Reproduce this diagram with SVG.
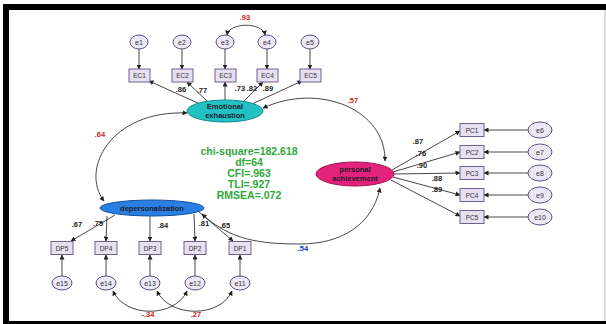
<svg xmlns="http://www.w3.org/2000/svg" width="606" height="324" viewBox="0 0 606 324">
<style>
.box{fill:#e6e0f0;stroke:#6e6090;stroke-width:1}
.err{fill:#ece8f6;stroke:#5e5080;stroke-width:1}
.c{fill:none;stroke:#333;stroke-width:0.9}
.bt{font-family:"Liberation Sans",Arial,sans-serif;font-size:6.5px;fill:#333;text-anchor:middle}
.et{font-family:"Liberation Sans",Arial,sans-serif;font-size:7px;fill:#333;text-anchor:middle}
.lt{font-family:"Liberation Sans",Arial,sans-serif;font-size:7.5px;font-weight:bold;fill:#222;text-anchor:middle}
.red{font-family:"Liberation Sans",Arial,sans-serif;font-size:7.5px;font-weight:bold;fill:#d42020;text-anchor:middle}
.blue{font-family:"Liberation Sans",Arial,sans-serif;font-size:7.5px;font-weight:bold;fill:#2030c0;text-anchor:middle}
.nt{font-family:"Liberation Sans",Arial,sans-serif;font-size:7.5px;font-weight:bold;fill:#1a1a2a;text-anchor:middle}
.fit{font-family:"Liberation Sans",Arial,sans-serif;font-size:10.5px;font-weight:bold;fill:#2fa83a;text-anchor:middle}
</style>
<defs>
<marker id="ah" viewBox="0 0 10 10" refX="9" refY="5" markerWidth="5" markerHeight="5" orient="auto-start-reverse" markerUnits="userSpaceOnUse">
<path d="M0,0 L10,5 L0,10 z" fill="#222"/>
</marker>
</defs>
<rect x="0" y="0" width="606" height="324" fill="#fff"/>
<rect x="3" y="4" width="603" height="6" fill="#000"/>
<rect x="3" y="4" width="6" height="320" fill="#000"/>
<rect x="3" y="321" width="603" height="3" fill="#000"/>
<line x1="605" y1="10" x2="605" y2="321" stroke="#bbb" stroke-width="1"/>

<g id="connectors">
<line class="c" x1="139" y1="49" x2="139" y2="69" marker-end="url(#ah)"/>
<line class="c" x1="182" y1="49" x2="182" y2="69" marker-end="url(#ah)"/>
<line class="c" x1="225" y1="49" x2="225" y2="69" marker-end="url(#ah)"/>
<line class="c" x1="267" y1="49" x2="267" y2="69" marker-end="url(#ah)"/>
<line class="c" x1="310" y1="49" x2="310" y2="69" marker-end="url(#ah)"/>
<path class="c" d="M227,35 C229,22 263,22 265,35" marker-start="url(#ah)" marker-end="url(#ah)"/>
<line class="c" x1="200" y1="104" x2="149" y2="81" marker-end="url(#ah)"/>
<line class="c" x1="207" y1="101" x2="187" y2="82" marker-end="url(#ah)"/>
<line class="c" x1="225" y1="100" x2="225" y2="82" marker-end="url(#ah)"/>
<line class="c" x1="244" y1="101" x2="263" y2="82" marker-end="url(#ah)"/>
<line class="c" x1="252" y1="104" x2="302" y2="81" marker-end="url(#ah)"/>
<line class="c" x1="392" y1="170" x2="460" y2="131" marker-end="url(#ah)"/>
<line class="c" x1="393" y1="172" x2="460" y2="152" marker-end="url(#ah)"/>
<line class="c" x1="394" y1="174" x2="460" y2="173" marker-end="url(#ah)"/>
<line class="c" x1="393" y1="177" x2="460" y2="195" marker-end="url(#ah)"/>
<line class="c" x1="391" y1="180" x2="460" y2="216" marker-end="url(#ah)"/>
<line class="c" x1="528" y1="130" x2="484" y2="130" marker-end="url(#ah)"/>
<line class="c" x1="528" y1="152" x2="484" y2="152" marker-end="url(#ah)"/>
<line class="c" x1="528" y1="173" x2="484" y2="173" marker-end="url(#ah)"/>
<line class="c" x1="528" y1="195" x2="484" y2="195" marker-end="url(#ah)"/>
<line class="c" x1="528" y1="217" x2="484" y2="217" marker-end="url(#ah)"/>
<line class="c" x1="115" y1="215" x2="71" y2="241" marker-end="url(#ah)"/>
<line class="c" x1="107" y1="216" x2="106" y2="241" marker-end="url(#ah)"/>
<line class="c" x1="150" y1="216" x2="150" y2="241" marker-end="url(#ah)"/>
<line class="c" x1="194" y1="214" x2="195" y2="241" marker-end="url(#ah)"/>
<line class="c" x1="199" y1="212" x2="233" y2="241" marker-end="url(#ah)"/>
<line class="c" x1="62" y1="276" x2="62" y2="255" marker-end="url(#ah)"/>
<line class="c" x1="106" y1="276" x2="106" y2="255" marker-end="url(#ah)"/>
<line class="c" x1="150" y1="276" x2="150" y2="255" marker-end="url(#ah)"/>
<line class="c" x1="195" y1="276" x2="195" y2="255" marker-end="url(#ah)"/>
<line class="c" x1="240" y1="276" x2="240" y2="255" marker-end="url(#ah)"/>
<path class="c" d="M113,291 C125,318 175,318 187,291" marker-start="url(#ah)" marker-end="url(#ah)"/>
<path class="c" d="M157,291 C170,318 220,318 232,291" marker-start="url(#ah)" marker-end="url(#ah)"/>
<path class="c" d="M187,113 C110,110 80,170 104,201" marker-start="url(#ah)" marker-end="url(#ah)"/>
<path class="c" d="M263,108 C320,82 386,110 385,161" marker-start="url(#ah)" marker-end="url(#ah)"/>
<path class="c" d="M202,214 C230,240 260,244 300,244 C340,244 372,226 380,188" marker-start="url(#ah)" marker-end="url(#ah)"/>
</g>

<g id="e1"><ellipse class="err" cx="139" cy="42" rx="9" ry="7"/><text class="et" x="139" y="44.5">e1</text></g>
<g id="e2"><ellipse class="err" cx="182" cy="42" rx="9" ry="7"/><text class="et" x="182" y="44.5">e2</text></g>
<g id="e3"><ellipse class="err" cx="225" cy="42" rx="9" ry="7"/><text class="et" x="225" y="44.5">e3</text></g>
<g id="e4"><ellipse class="err" cx="267" cy="42" rx="9" ry="7"/><text class="et" x="267" y="44.5">e4</text></g>
<g id="e5"><ellipse class="err" cx="310" cy="42" rx="9" ry="7"/><text class="et" x="310" y="44.5">e5</text></g>
<g id="EC1"><rect class="box" x="129" y="69" width="21" height="13"/><text class="bt" x="139.5" y="78">EC1</text></g>
<g id="EC2"><rect class="box" x="172" y="69" width="21" height="13"/><text class="bt" x="182.5" y="78">EC2</text></g>
<g id="EC3"><rect class="box" x="215" y="69" width="21" height="13"/><text class="bt" x="225.5" y="78">EC3</text></g>
<g id="EC4"><rect class="box" x="257" y="69" width="21" height="13"/><text class="bt" x="267.5" y="78">EC4</text></g>
<g id="EC5"><rect class="box" x="300" y="69" width="21" height="13"/><text class="bt" x="310.5" y="78">EC5</text></g>

<g id="EE"><ellipse cx="225" cy="111" rx="38" ry="11" fill="#22c2c4" stroke="#168a8c" stroke-width="1"/><text class="nt" x="225" y="109">Emotional</text><text class="nt" x="225" y="118">exhaustion</text></g>

<g id="PA"><ellipse cx="355" cy="174" rx="39" ry="12" fill="#e3227c" stroke="#a01452" stroke-width="1"/><text class="nt" x="355" y="172">personal</text><text class="nt" x="355" y="181">achievement</text></g>
<g id="PC1"><rect class="box" x="460" y="123.5" width="24" height="13"/><text class="bt" x="472" y="132.5">PC1</text></g>
<g id="PC2"><rect class="box" x="460" y="145.5" width="24" height="13"/><text class="bt" x="472" y="154.5">PC2</text></g>
<g id="PC3"><rect class="box" x="460" y="166.5" width="24" height="13"/><text class="bt" x="472" y="175.5">PC3</text></g>
<g id="PC4"><rect class="box" x="460" y="188.5" width="24" height="13"/><text class="bt" x="472" y="197.5">PC4</text></g>
<g id="PC5"><rect class="box" x="460" y="210.5" width="24" height="13"/><text class="bt" x="472" y="219.5">PC5</text></g>
<g id="e6"><ellipse class="err" cx="540" cy="130" rx="12" ry="8"/><text class="et" x="540" y="132.5">e6</text></g>
<g id="e7"><ellipse class="err" cx="540" cy="152" rx="12" ry="8"/><text class="et" x="540" y="154.5">e7</text></g>
<g id="e8"><ellipse class="err" cx="540" cy="173" rx="12" ry="8"/><text class="et" x="540" y="175.5">e8</text></g>
<g id="e9"><ellipse class="err" cx="540" cy="195" rx="12" ry="8"/><text class="et" x="540" y="197.5">e9</text></g>
<g id="e10"><ellipse class="err" cx="540" cy="217" rx="12" ry="8"/><text class="et" x="540" y="219.5">e10</text></g>

<g id="DP"><ellipse cx="152" cy="208" rx="52" ry="8" fill="#2a80e2" stroke="#1450a0" stroke-width="1"/><text class="nt" x="152" y="210.5">depersonalization</text></g>
<g id="DP5"><rect class="box" x="51" y="241.5" width="22" height="13"/><text class="bt" x="62" y="250.5">DP5</text></g>
<g id="DP4"><rect class="box" x="95" y="241.5" width="22" height="13"/><text class="bt" x="106" y="250.5">DP4</text></g>
<g id="DP3"><rect class="box" x="139" y="241.5" width="22" height="13"/><text class="bt" x="150" y="250.5">DP3</text></g>
<g id="DP2"><rect class="box" x="184" y="241.5" width="22" height="13"/><text class="bt" x="195" y="250.5">DP2</text></g>
<g id="DP1"><rect class="box" x="229" y="241.5" width="22" height="13"/><text class="bt" x="240" y="250.5">DP1</text></g>
<g id="e15"><ellipse class="err" cx="62" cy="283" rx="10" ry="7"/><text class="et" x="62" y="285.5">e15</text></g>
<g id="e14"><ellipse class="err" cx="106" cy="283" rx="10" ry="7"/><text class="et" x="106" y="285.5">e14</text></g>
<g id="e13"><ellipse class="err" cx="150" cy="283" rx="10" ry="7"/><text class="et" x="150" y="285.5">e13</text></g>
<g id="e12"><ellipse class="err" cx="195" cy="283" rx="10" ry="7"/><text class="et" x="195" y="285.5">e12</text></g>
<g id="e11"><ellipse class="err" cx="240" cy="283" rx="10" ry="7"/><text class="et" x="240" y="285.5">e11</text></g>

<g id="labels">
<text class="red" x="245" y="20">.93</text>
<text class="lt" x="181" y="92">.86</text>
<text class="lt" x="202" y="93">.77</text>
<text class="lt" x="240" y="91">.73</text>
<text class="lt" x="252" y="91">.82</text>
<text class="lt" x="268" y="91">.89</text>
<text class="lt" x="418" y="144">.87</text>
<text class="lt" x="421" y="156">.76</text>
<text class="lt" x="422" y="168">.90</text>
<text class="lt" x="437" y="181">.88</text>
<text class="lt" x="437" y="192">.89</text>
<text class="lt" x="77" y="227">.67</text>
<text class="lt" x="98" y="226">.75</text>
<text class="lt" x="163" y="228">.84</text>
<text class="lt" x="204" y="226">.81</text>
<text class="lt" x="225" y="228">.65</text>
<text class="red" x="100" y="137">.64</text>
<text class="red" x="353" y="103">.57</text>
<text class="blue" x="303" y="251">.54</text>
<text class="red" x="148" y="317">-.34</text>
<text class="red" x="196" y="317">.27</text>
</g>

<g id="fit">
<text class="fit" x="249" y="155">chi-square=182.618</text>
<text class="fit" x="249" y="166">df=64</text>
<text class="fit" x="249" y="177">CFI=.963</text>
<text class="fit" x="249" y="188">TLI=.927</text>
<text class="fit" x="249" y="199">RMSEA=.072</text>
</g>
</svg>
